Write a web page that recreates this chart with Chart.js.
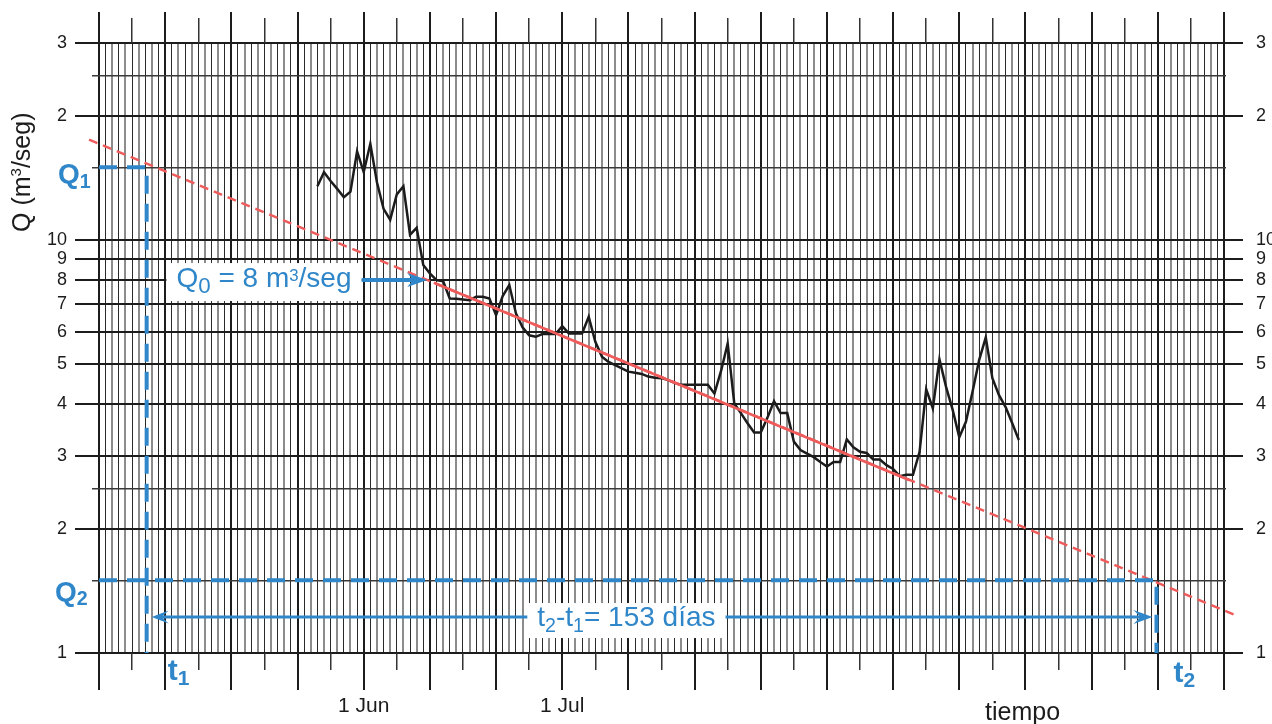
<!DOCTYPE html>
<html>
<head>
<meta charset="utf-8">
<title>Curva de recesión</title>
<script src="https://cdn.jsdelivr.net/npm/chart.js@4.4.1/dist/chart.umd.min.js"></script>
<style>
  html, body { margin: 0; padding: 0; background: #fff; }
  #wrap { width: 1272px; height: 724px; }
</style>
</head>
<body>
<div id="wrap"><canvas id="chart" width="1272" height="724"></canvas></div>
<script>
// Semi-log hydrograph on "paper" grid: daily discharge against time, the fitted
// recession line, and the Q1/Q2 - t1/t2 construction used to read its length.

// days counted from 1 Jun
const FLOW_DAYS = [
  -7, -6, -5, -4, -3, -2, -1, 0, 1, 2,
  3, 4, 5, 6, 7, 8, 9, 10, 11, 12,
  13, 14, 15, 16, 17, 18, 19, 20, 21, 22,
  23, 24, 25, 26, 27, 28, 29, 30, 31, 32,
  33, 34, 35, 36, 37, 38, 39, 40, 41, 42,
  43, 44, 45, 46, 47, 48, 49, 50, 51, 52,
  53, 54, 55, 56, 57, 58, 59, 60, 61, 62,
  63, 64, 65, 66, 67, 68, 69, 70, 71, 72,
  73, 74, 75, 76, 77, 78, 79, 80, 81, 82,
  83, 84, 85, 86, 87, 88, 89, 90, 91, 92,
  93, 94, 95, 96, 97, 98, 99,
];
// m3/seg
const FLOW_Q = [
  13.5, 14.6, 13.9, 13.3, 12.7, 13.1, 16.4, 14.6, 17.1, 13.8,
  11.9, 11.2, 12.9, 13.5, 10.3, 10.7, 8.7, 8.3, 8.0, 7.95,
  7.22, 7.21, 7.18, 7.15, 7.29, 7.29, 7.22, 6.58, 7.32, 7.78,
  6.65, 6.15, 5.88, 5.83, 5.92, 5.92, 5.92, 6.19, 5.94, 5.94,
  5.94, 6.52, 5.67, 5.22, 5.07, 4.98, 4.89, 4.8, 4.77, 4.74,
  4.67, 4.64, 4.63, 4.58, 4.51, 4.46, 4.46, 4.46, 4.46, 4.46,
  4.25, 4.82, 5.62, 4.02, 3.81, 3.6, 3.42, 3.42, 3.71, 4.07,
  3.81, 3.81, 3.25, 3.1, 3.04, 2.98, 2.9, 2.83, 2.9, 2.9,
  3.29, 3.15, 3.07, 3.05, 2.94, 2.94, 2.85, 2.79, 2.68, 2.7,
  2.7, 3.07, 4.35, 3.91, 5.14, 4.41, 3.88, 3.33, 3.63, 4.29,
  5.12, 5.81, 4.63, 4.21, 3.94, 3.6, 3.28,
];

// recession line, dashed over its whole length, solid where it was fitted
const RECESSION_DAYS = [-41.5, 132];
const RECESSION_Q = [17.5, 1.23];
const FIT_DAYS = [10.6, 82.5];
const FIT_Q = [7.88, 2.62];

const X_MIN = -40;
const X_MAX = 130;
const X_LABELS = { 0: "1 Jun", 30: "1 Jul" };
const Y_GRID = [1, 1.5, 2, 2.5, 3, 4, 5, 6, 7, 8, 9, 10, 15, 20, 25, 30];
const Y_LABELS = { 1: "1", 2: "2", 3: "3", 4: "4", 5: "5", 6: "6", 7: "7", 8: "8", 9: "9", 10: "10", 20: "2", 30: "3" };

// construction
const Q0 = 8;
const Q0_ARROW_DAYS = [-0.2, 9.6];
const Q0_LABEL_DAY = -28.3;
const Q1 = 15;
const Q2 = 1.5;
const T1 = -32.8;
const T2 = 119.8;
const SPAN_Q = 1.222;
const SPAN_LABEL_DAY = 39.7;

const FONT = '"Liberation Sans", Arial, Helvetica, sans-serif';
const INK = "#1c1c1c";
const BLUE = "#2f86c9";
const RED = "#ef5b5b";

const DAY_GRID = [];
for (let d = X_MIN; d <= X_MAX; d++) DAY_GRID.push(d);

function align(p, w) {
  return Math.round(p - w / 2) + w / 2;
}

function seg(ctx, x1, y1, x2, y2, w, color) {
  ctx.save();
  ctx.strokeStyle = color;
  ctx.lineWidth = w;
  ctx.beginPath();
  ctx.moveTo(x1, y1);
  ctx.lineTo(x2, y2);
  ctx.stroke();
  ctx.restore();
}

// text made of runs, some of them sub- or superscript
function richWidth(ctx, parts, size, weight) {
  let w = 0;
  for (const p of parts) {
    ctx.font = `${weight} ${p.s ? size * p.s : size}px ${FONT}`;
    w += ctx.measureText(p.t).width;
  }
  return w;
}

function drawRich(ctx, parts, x, y, size, weight) {
  let cx = x;
  for (const p of parts) {
    ctx.font = `${weight} ${p.s ? size * p.s : size}px ${FONT}`;
    ctx.fillText(p.t, cx, y + (p.dy || 0) * size);
    cx += ctx.measureText(p.t).width;
  }
}

function arrowHead(ctx, tx, ty, dir, len, half, notch) {
  ctx.beginPath();
  ctx.moveTo(tx, ty);
  ctx.lineTo(tx - dir * len, ty - half);
  ctx.lineTo(tx - dir * (len - notch), ty);
  ctx.lineTo(tx - dir * len, ty + half);
  ctx.closePath();
  ctx.fill();
}

const paperPlugin = {
  id: "paper",
  beforeDatasetsDraw(chart) {
    const { ctx, chartArea: a } = chart;
    const xs = chart.scales.x;
    const ys = chart.scales.y;
    // tick extensions above and below the grid, every 5 days
    for (const d of DAY_GRID) {
      if (d % 5) continue;
      const major = d % 10 === 0;
      const w = major ? 2 : 1.5;
      const x = align(xs.getPixelForValue(d), w);
      seg(ctx, x, major ? 12 : 18, x, a.top, w, major ? INK : "#333");
      seg(ctx, x, a.bottom, x, major ? 690 : 670, w, major ? INK : "#333");
    }
    // horizontal lines run past both edges
    for (const q of Y_GRID) {
      const labelled = q in Y_LABELS;
      const w = labelled ? 2 : 1.5;
      const y = align(ys.getPixelForValue(q), w);
      const col = labelled ? INK : "#3a3a3a";
      seg(ctx, labelled ? 75 : 92, y, a.left, y, w, col);
      seg(ctx, a.right, y, labelled ? 1243 : 1226, y, w, col);
    }
  },
  afterDatasetsDraw(chart) {
    const { ctx, chartArea: a } = chart;
    const xs = chart.scales.x;
    const ys = chart.scales.y;
    const px = (d) => xs.getPixelForValue(d);
    const py = (q) => ys.getPixelForValue(q);
    ctx.save();

    // Q1 / t1 and Q2 / t2 dashed construction lines
    ctx.strokeStyle = BLUE;
    ctx.lineWidth = 4;
    ctx.setLineDash([18, 10]);
    ctx.beginPath();
    ctx.moveTo(a.left, py(Q1));
    ctx.lineTo(px(T1), py(Q1));
    ctx.lineTo(px(T1), a.bottom);
    ctx.stroke();
    ctx.beginPath();
    ctx.moveTo(a.left, py(Q2));
    ctx.lineTo(px(T2), py(Q2));
    ctx.lineTo(px(T2), a.bottom);
    ctx.stroke();
    ctx.setLineDash([]);

    // t2 - t1 double arrow
    ctx.fillStyle = BLUE;
    const ya = py(SPAN_Q);
    const lx = px(T1) + 5;
    const rx = px(T2) - 4;
    seg(ctx, lx + 8, ya, rx - 8, ya, 3, BLUE);
    arrowHead(ctx, lx, ya, -1, 17, 6.5, 7);
    arrowHead(ctx, rx, ya, 1, 19, 7, 7);

    // Q0 label with arrow to the recession line
    const q0Parts = [{ t: "Q" }, { t: "0", s: 0.8, dy: 0.22 }, { t: " = 8 m" }, { t: "3", s: 0.6, dy: -0.2 }, { t: "/seg" }];
    const q0x = px(Q0_LABEL_DAY);
    const q0y = py(Q0) + 7;
    const q0w = richWidth(ctx, q0Parts, 28, "normal");
    const q0Right = q0x + q0w + 10;
    const tip = px(Q0_ARROW_DAYS[1]);
    seg(ctx, q0Right, py(Q0), tip - 14, py(Q0), 4, BLUE);
    ctx.fillStyle = BLUE;
    arrowHead(ctx, tip, py(Q0), 1, 20, 7, 6);
    ctx.fillStyle = "#fff";
    ctx.fillRect(q0x - 10, q0y - 24, q0w + 20, 38);
    ctx.fillStyle = BLUE;
    ctx.textBaseline = "alphabetic";
    ctx.textAlign = "left";
    drawRich(ctx, q0Parts, q0x, q0y, 28, "normal");

    // t2 - t1 label
    const spParts = [{ t: "t" }, { t: "2", s: 0.7, dy: 0.2 }, { t: "-t" }, { t: "1", s: 0.7, dy: 0.2 }, { t: "= 153 días" }];
    const spw = richWidth(ctx, spParts, 28, "normal");
    const spx = px(SPAN_LABEL_DAY) - spw / 2;
    const spy = ya + 9;
    ctx.fillStyle = "#fff";
    ctx.fillRect(spx - 10, spy - 23, spw + 20, 35);
    ctx.fillStyle = BLUE;
    drawRich(ctx, spParts, spx, spy, 28, "normal");

    // Q1, Q2, t1, t2 markers
    drawRich(ctx, [{ t: "Q" }, { t: "1", s: 0.7, dy: 0.15 }], 58, py(Q1) + 16, 28, "bold");
    drawRich(ctx, [{ t: "Q" }, { t: "2", s: 0.7, dy: 0.15 }], 55, py(Q2) + 21, 28, "bold");
    drawRich(ctx, [{ t: "t" }, { t: "1", s: 0.7, dy: 0.15 }], px(T1) + 21, a.bottom + 27, 30, "bold");
    drawRich(ctx, [{ t: "t" }, { t: "2", s: 0.7, dy: 0.15 }], px(T2) + 17, a.bottom + 29, 30, "bold");

    // axis titles
    ctx.fillStyle = INK;
    ctx.save();
    ctx.translate(30, 232);
    ctx.rotate(-Math.PI / 2);
    drawRich(ctx, [{ t: "Q (m" }, { t: "3", s: 0.6, dy: -0.38 }, { t: "/seg)" }], 0, 0, 25, "normal");
    ctx.restore();
    ctx.font = `25px ${FONT}`;
    ctx.fillText("tiempo", 985, 720);

    ctx.restore();
  },
};

function yScale(position, pad, width) {
  return {
    type: "logarithmic",
    position,
    min: 1,
    max: 30,
    afterBuildTicks: (s) => {
      s.ticks = Y_GRID.map((v) => ({ value: v }));
    },
    afterFit: (s) => {
      s.width = width;
    },
    border: { display: false },
    grid: {
      display: position === "left",
      drawTicks: false,
      color: (c) => (c.tick && c.tick.value in Y_LABELS ? INK : "#3a3a3a"),
      lineWidth: (c) => (c.tick && c.tick.value in Y_LABELS ? 2 : 1.5),
    },
    ticks: {
      autoSkip: false,
      padding: pad,
      color: INK,
      font: { family: FONT, size: 18 },
      callback: (v) => Y_LABELS[v] || "",
    },
  };
}

new Chart(document.getElementById("chart"), {
  type: "line",
  data: {
    datasets: [
      {
        data: FIT_DAYS.map((d, i) => ({ x: d, y: FIT_Q[i] })),
        borderColor: RED,
        borderWidth: 2.5,
        pointRadius: 0,
        order: 0,
      },
      {
        data: RECESSION_DAYS.map((d, i) => ({ x: d, y: RECESSION_Q[i] })),
        borderColor: RED,
        borderWidth: 2.5,
        borderDash: [9, 6],
        pointRadius: 0,
        clip: false,
        order: 1,
      },
      {
        data: FLOW_DAYS.map((d, i) => ({ x: d, y: FLOW_Q[i] })),
        borderColor: INK,
        borderWidth: 2.5,
        pointRadius: 0,
        tension: 0,
        order: 2,
      },
    ],
  },
  options: {
    responsive: false,
    animation: false,
    events: [],
    layout: { padding: { top: 43, left: 0, right: 0, bottom: 0 } },
    plugins: { legend: { display: false }, tooltip: { enabled: false } },
    scales: {
      x: {
        type: "linear",
        min: X_MIN,
        max: X_MAX,
        afterBuildTicks: (s) => {
          s.ticks = DAY_GRID.map((v) => ({ value: v }));
        },
        afterFit: (s) => {
          s.height = 71;
        },
        border: { display: false },
        grid: {
          drawTicks: false,
          color: (c) => {
            const v = c.tick ? c.tick.value : 0;
            if (v % 10 === 0) return INK;
            return Math.abs(v) % 2 === 1 ? "#2a2a2a" : "#8c8c8c";
          },
          lineWidth: (c) => {
            const v = c.tick ? c.tick.value : 0;
            if (v % 10 === 0) return 2;
            return Math.abs(v) % 2 === 1 ? 1 : 2;
          },
        },
        ticks: {
          autoSkip: false,
          maxRotation: 0,
          minRotation: 0,
          padding: 41,
          color: INK,
          font: { family: FONT, size: 21 },
          callback: (v) => X_LABELS[v] || "",
        },
      },
      y: yScale("left", 32, 99),
      y2: yScale("right", 32, 48),
    },
  },
  plugins: [paperPlugin],
});
</script>
</body>
</html>
